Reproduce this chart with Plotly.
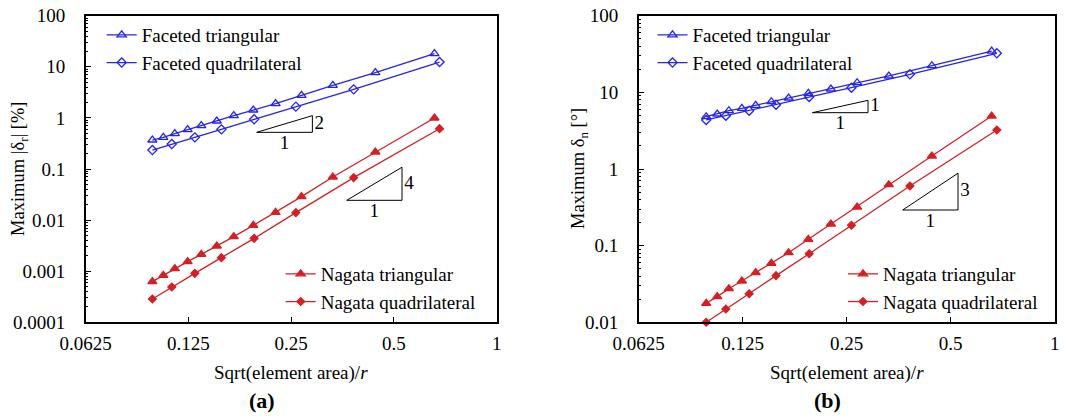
import numpy as np
import plotly.graph_objects as go

# ---------------- data ----------------
x_tri = [0.098, 0.1055, 0.114, 0.1243, 0.1363, 0.1513, 0.1697, 0.1936, 0.225, 0.268, 0.331, 0.441, 0.657]
x_quad = [0.098, 0.1117, 0.1305, 0.1561, 0.1947, 0.258, 0.381, 0.68]

# (a) Maximum |delta_r| [%]
a_fac_tri = [0.369, 0.416, 0.491, 0.588, 0.705, 0.869, 1.105, 1.426, 1.897, 2.763, 4.335, 7.67, 18.05]
a_fac_quad = [0.235, 0.308, 0.416, 0.597, 0.937, 1.66, 3.62, 12.4]
a_nag_tri = [0.000624, 0.000831, 0.001122, 0.001538, 0.00214, 0.003114, 0.00474, 0.0079,
             0.01419, 0.02874, 0.0697, 0.215, 0.995]
a_nag_quad = [0.000286, 0.000491, 0.000909, 0.00184, 0.0044, 0.01398, 0.0677, 0.615]

# (b) Maximum delta_n [deg]
b_fac_tri = [4.81, 5.22, 5.76, 6.19, 6.78, 7.55, 8.44, 9.72, 11.06, 13.36, 16.35, 22.27, 34.6]
b_fac_quad = [4.36, 4.96, 5.76, 6.90, 8.70, 11.5, 17.2, 32.3]
b_nag_tri = [0.0177, 0.0216, 0.02743, 0.0346, 0.0444, 0.0589, 0.0809, 0.121, 0.1916, 0.319,
             0.624, 1.478, 4.91]
b_nag_quad = [0.0100, 0.0149, 0.0236, 0.0406, 0.0785, 0.1843, 0.600, 3.23]

# slope triangles: (x0, x1, y0, slope)
a_slopes = [(0.198, 0.2884, 0.522, 2), (0.3636, 0.528, 0.02438, 4)]
b_slopes = [(0.1989, 0.2882, 5.43, 1), (0.3631, 0.525, 0.2918, 3)]

x_ticks = [0.0625, 0.125, 0.25, 0.5, 1]
x_ticktext = ["0.0625", "0.125", "0.25", "0.5", "1"]
a_yticks = [1e-4, 1e-3, 1e-2, 1e-1, 1, 10, 100]
a_yticktext = ["0.0001", "0.001", "0.01", "0.1", "1", "10", "100"]
b_yticks = [1e-2, 1e-1, 1, 10, 100]
b_yticktext = ["0.01", "0.1", "1", "10", "100"]

names = ["Faceted triangular", "Faceted quadrilateral", "Nagata triangular", "Nagata quadrilateral"]
x_title = "Sqrt(element area)/<i>r</i>"
a_ytitle = "Maximum |δ<sub>r</sub>| [%]"
b_ytitle = "Maximum δ<sub>n</sub> [°]"

# ---------------- style ----------------
W, H = 1077, 416
FONT = "Liberation Serif, Times New Roman, serif"
BLUE = "#2424F2"
RED = "#D42024"

fig = go.Figure()


def px_x(p):
    return p / W


def px_y(p):
    return 1 - p / H


panels = [
    dict(xa="x", ya="y", data=[a_fac_tri, a_fac_quad, a_nag_tri, a_nag_quad], slopes=a_slopes,
         legs=["legend", "legend2"], ldy=1.12),
    dict(xa="x2", ya="y2", data=[b_fac_tri, b_fac_quad, b_nag_tri, b_nag_quad], slopes=b_slopes,
         legs=["legend3", "legend4"], ldy=1.08),
]

for p in panels:
    d = p["data"]
    specs = [
        (x_tri, d[0], BLUE, "triangle-up-open", 8, p["legs"][0]),
        (x_quad, d[1], BLUE, "diamond-open", 7, p["legs"][0]),
        (x_tri, d[2], RED, "triangle-up", 8, p["legs"][1]),
        (x_quad, d[3], RED, "diamond", 6, p["legs"][1]),
    ]
    for (xs, ys, col, sym, sz, leg), nm in zip(specs, names):
        fig.add_trace(go.Scatter(
            x=xs, y=ys, name=nm, mode="lines+markers",
            line=dict(color=col, width=1.3),
            marker=dict(symbol=sym, size=sz, color=col, line=dict(color=col, width=1.3)),
            xaxis=p["xa"], yaxis=p["ya"], legend=leg, cliponaxis=False,
        ))
    for (x0, x1, y0, s) in p["slopes"]:
        y1 = y0 * (x1 / x0) ** s
        fig.add_trace(go.Scatter(
            x=[x0, x1, x1, x0], y=[y0, y0, y1, y0], mode="lines",
            line=dict(color="black", width=1), showlegend=False, hoverinfo="skip",
            xaxis=p["xa"], yaxis=p["ya"],
        ))
        fig.add_trace(go.Scatter(
            x=[x1 * 1.015], y=[np.sqrt(y0 * y1)], mode="text", text=[str(s)],
            textposition="middle right", textfont=dict(family=FONT, size=19, color="black"),
            showlegend=False, hoverinfo="skip", xaxis=p["xa"], yaxis=p["ya"],
        ))
        fig.add_trace(go.Scatter(
            x=[np.sqrt(x0 * x1)], y=[y0 / p["ldy"]], mode="text", text=["1"],
            textposition="bottom center", textfont=dict(family=FONT, size=19, color="black"),
            showlegend=False, hoverinfo="skip", xaxis=p["xa"], yaxis=p["ya"],
        ))

ydom = [px_y(322.3), px_y(15.7)]
axis_common = dict(
    type="log", showline=True, linecolor="black", linewidth=1.5, mirror=True, automargin=False,
    showgrid=False, zeroline=False, ticks="inside", ticklen=6, tickwidth=1, tickcolor="black",
    tickfont=dict(family=FONT, size=19, color="black"),
)
minor = dict(ticks="inside", ticklen=3, tickwidth=1, tickcolor="black", dtick="D1", showgrid=False)
leg_common = dict(xanchor="left", yanchor="top", bgcolor="rgba(0,0,0,0)", font=dict(family=FONT, size=19))

fig.update_layout(
    width=W, height=H, margin=dict(l=0, r=0, t=0, b=0),
    paper_bgcolor="white", plot_bgcolor="white",
    font=dict(family=FONT, size=18, color="black"),
    xaxis=dict(axis_common, domain=[px_x(85.7), px_x(496.7)], range=[np.log10(0.0625), 0],
               tickvals=x_ticks, ticktext=x_ticktext, anchor="y", ticklabelstandoff=3),
    yaxis=dict(axis_common, domain=ydom, range=[-4, 2], tickvals=a_yticks, ticktext=a_yticktext,
               anchor="x", minor=minor, ticklabelstandoff=15),
    xaxis2=dict(axis_common, domain=[px_x(638.7), px_x(1054.7)], range=[np.log10(0.0625), 0],
                tickvals=x_ticks, ticktext=x_ticktext, anchor="y2", ticklabelstandoff=3),
    yaxis2=dict(axis_common, domain=ydom, range=[-2, 2], tickvals=b_yticks, ticktext=b_yticktext,
                anchor="x2", minor=minor, ticklabelstandoff=15),
    legend=dict(leg_common, x=px_x(101.7), y=px_y(16)),
    legend2=dict(leg_common, x=px_x(280.7), y=px_y(255)),
    legend3=dict(leg_common, x=px_x(652.5), y=px_y(16)),
    legend4=dict(leg_common, x=px_x(843), y=px_y(255)),
    annotations=[
        dict(text=x_title, x=px_x(291.2), y=px_y(372.7), xref="paper", yref="paper",
             xanchor="center", yanchor="middle", showarrow=False, font=dict(family=FONT, size=19)),
        dict(text=x_title, x=px_x(846.7), y=px_y(372.7), xref="paper", yref="paper",
             xanchor="center", yanchor="middle", showarrow=False, font=dict(family=FONT, size=19)),
        dict(text=a_ytitle, x=px_x(19), y=px_y(169), xref="paper", yref="paper", textangle=-90,
             xanchor="center", yanchor="middle", showarrow=False, font=dict(family=FONT, size=18.5)),
        dict(text=b_ytitle, x=px_x(579), y=px_y(169), xref="paper", yref="paper", textangle=-90,
             xanchor="center", yanchor="middle", showarrow=False, font=dict(family=FONT, size=18.5)),
        dict(text="<b>(a)</b>", x=px_x(262), y=px_y(400), xref="paper", yref="paper",
             xanchor="center", yanchor="middle", showarrow=False, font=dict(family=FONT, size=22)),
        dict(text="<b>(b)</b>", x=px_x(827), y=px_y(400), xref="paper", yref="paper",
             xanchor="center", yanchor="middle", showarrow=False, font=dict(family=FONT, size=22)),
    ],
)

fig.write_html("out.html")
